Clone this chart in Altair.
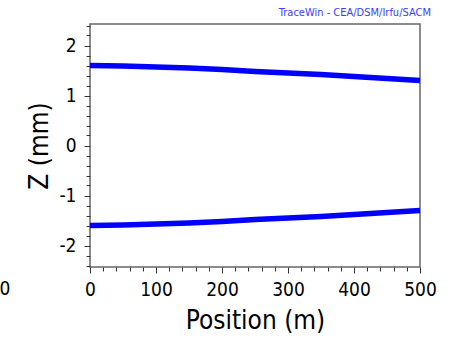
import altair as alt
import pandas as pd

position = [0, 50, 100, 150, 200, 250, 300, 350, 400, 450, 500]
z_upper = [1.60, 1.59, 1.57, 1.55, 1.52, 1.48, 1.45, 1.42, 1.38, 1.34, 1.30]
z_lower = [-1.60, -1.59, -1.57, -1.55, -1.52, -1.48, -1.45, -1.42, -1.38, -1.34, -1.30]

y_ticks = [round(-2.4 + 0.2 * i, 1) for i in range(25)]
x_ticks = list(range(0, 501, 20))

df = pd.DataFrame(
    {"pos": position * 2, "z": z_upper + z_lower, "env": ["up"] * len(position) + ["low"] * len(position)}
)

FONT = "DejaVu Sans Condensed, DejaVu Sans"
is_major_y = "abs(datum.value - round(datum.value)) < 0.001"
is_major_x = "datum.value % 100 === 0"

x_enc = alt.X(
    "pos:Q",
    scale=alt.Scale(domain=[0, 500], nice=False, zero=False),
    axis=alt.Axis(
        title="Position (m)",
        values=x_ticks,
        labelExpr=f"{is_major_x} ? '' + datum.value : ''",
        tickSize={"condition": {"test": is_major_x, "value": 6}, "value": 4},
        domain=False,
        grid=False,
        labelFont=FONT,
        labelFontSize=19,
        labelColor="black",
        labelPadding=7,
        labelFlush=False,
        labelOverlap=False,
        tickColor="#333333",
        titleFont=FONT,
        titleFontSize=26,
        titleFontWeight="normal",
        titleColor="black",
        titlePadding=8,
    ),
)
y_enc = alt.Y(
    "z:Q",
    scale=alt.Scale(domain=[-2.43, 2.43], nice=False, zero=False),
    axis=alt.Axis(
        title="Z (mm)",
        values=y_ticks,
        labelExpr=f"{is_major_y} ? '' + round(datum.value) : ''",
        tickSize={"condition": {"test": is_major_y, "value": 6}, "value": 4},
        domain=False,
        grid=False,
        labelFont=FONT,
        labelFontSize=19,
        labelColor="black",
        labelPadding=8,
        labelOverlap=False,
        labelFlush=False,
        tickColor="#333333",
        titleFont=FONT,
        titleFontSize=26,
        titleFontWeight="normal",
        titleColor="black",
        titlePadding=6,
    ),
)

lines = alt.Chart(df).mark_line(color="#0000ff", strokeWidth=5.5, interpolate="linear").encode(
    x=x_enc, y=y_enc, detail="env:N"
)

credit = alt.Chart(pd.DataFrame({"t": ["TraceWin - CEA/DSM/Irfu/SACM"]})).mark_text(
    align="right", baseline="alphabetic", font=FONT, fontSize=11, color="#3c3cff"
).encode(x=alt.value(341), y=alt.value(-8), text="t:N")

stray = alt.Chart(pd.DataFrame({"t": ["0"]})).mark_text(
    align="center", baseline="top", font=FONT, fontSize=19, color="black"
).encode(x=alt.value(-85), y=alt.value(243 + 13), text="t:N")

chart = (
    alt.layer(lines, credit, stray)
    .properties(
        width=330,
        height=243,
        autosize=alt.AutoSizeParams(type="none"),
        padding={"left": 90, "top": 24, "right": 32, "bottom": 70},
        background="white",
    )
    .configure_view(stroke="#666666", strokeWidth=1.5)
)

chart.save("out.html", embed_options={"renderer": "svg", "actions": False})
